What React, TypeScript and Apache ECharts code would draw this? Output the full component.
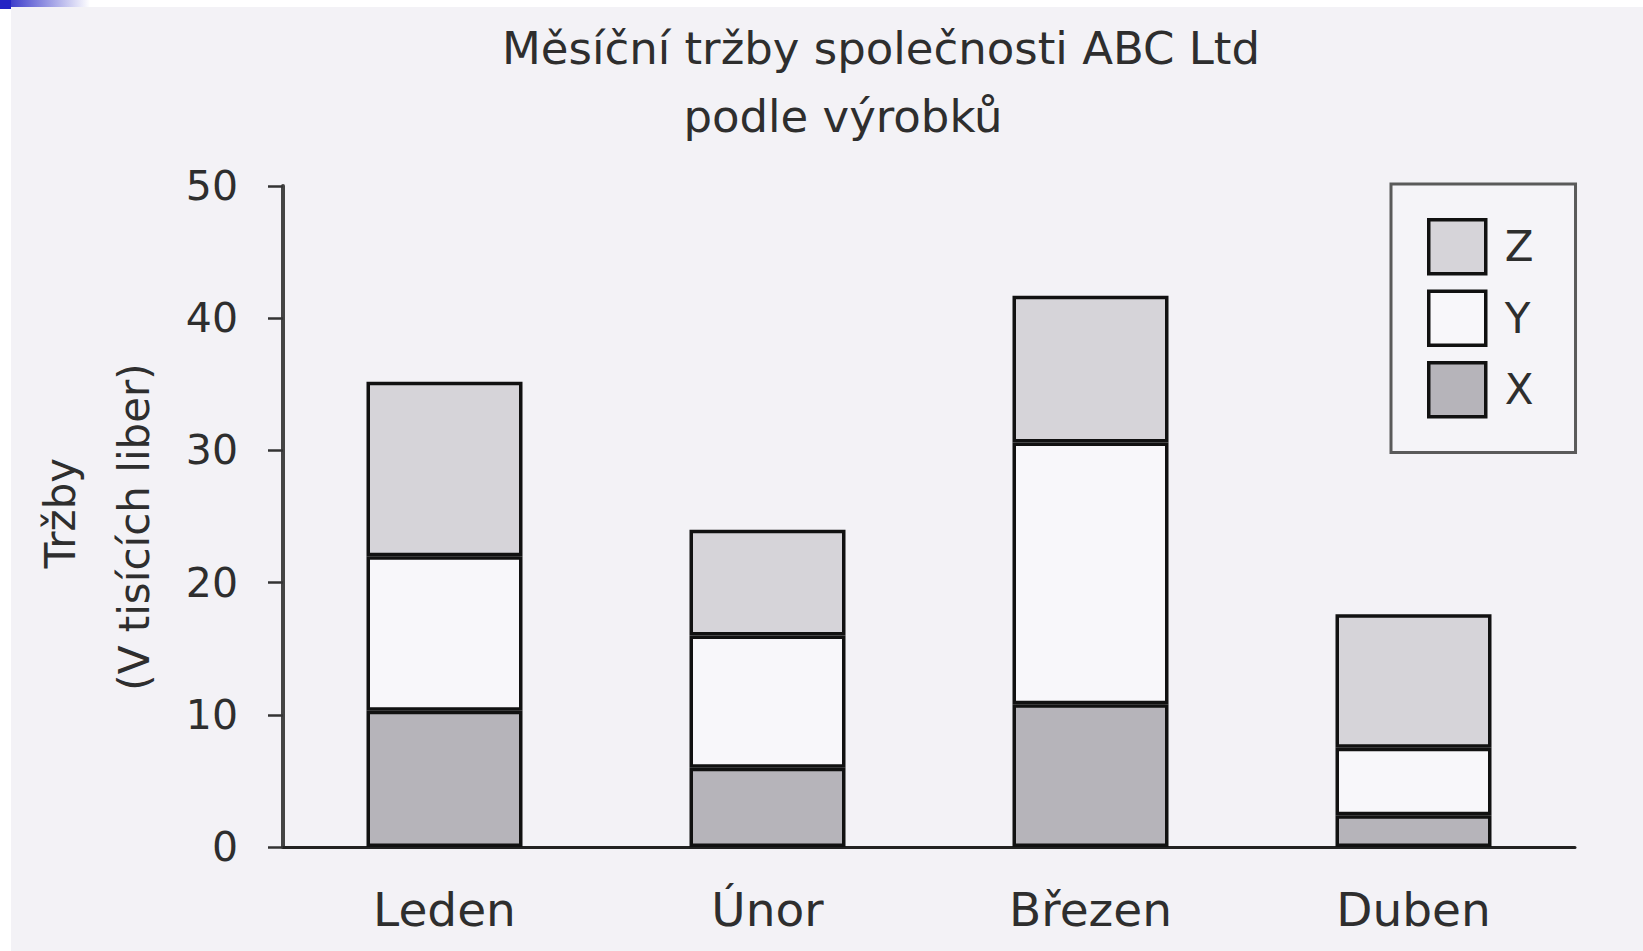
import React, { useEffect, useRef } from "react";
import * as echarts from "echarts";

const titleLine1 = "Měsíční tržby společnosti ABC Ltd";
const titleLine2 = "podle výrobků";
const yNameLine1 = "Tržby";
const yNameLine2 = "(V tisících liber)";
const categories = ["Leden", "Únor", "Březen", "Duben"];
const seriesNames = ["X", "Y", "Z"];
const xValues = [10.3, 6, 10.8, 2.4];
const yValues = [11.7, 10, 19.8, 5.1];
const zValues = [13.2, 8, 11.1, 10.1];
const legendOrder = ["Z", "Y", "X"];
const yTicks = { min: 0, max: 50, interval: 10 };

const FONT = "DejaVu Sans";
const fills: Record<string, string> = { X: "#b6b4ba", Y: "#f8f7fa", Z: "#d6d4d9" };

export default function App() {
  const ref = useRef<HTMLDivElement>(null);
  useEffect(() => {
    if (!ref.current) return;
    const chart = echarts.init(ref.current, null, { renderer: "svg" });
    const values: Record<string, number[]> = { X: xValues, Y: yValues, Z: zValues };
    chart.setOption({
      animation: false,
      backgroundColor: "#ffffff",
      title: [
        {
          text: titleLine1,
          left: 876,
          top: 21,
          textAlign: "center",
          textStyle: { fontFamily: FONT, fontSize: 45, fontWeight: "normal", color: "#2e2e2e" },
        },
        {
          text: titleLine2,
          left: 838,
          top: 89,
          textAlign: "center",
          textStyle: { fontFamily: FONT, fontSize: 45, fontWeight: "normal", color: "#2e2e2e" },
        },
      ],
      graphic: [
        { type: "rect", z: -100, shape: { x: 11, y: 7, width: 1632, height: 944 }, style: { fill: "#f3f2f6" } },
        {
          type: "rect",
          z: -90,
          shape: { x: 0, y: 0, width: 90, height: 7 },
          style: {
            fill: new echarts.graphic.LinearGradient(0, 0, 1, 0, [
              { offset: 0, color: "#2424c4" },
              { offset: 1, color: "#ffffff" },
            ]),
          },
        },
        { type: "rect", z: -90, shape: { x: 0, y: 0, width: 11, height: 9 }, style: { fill: "#2424c4" } },
        {
          type: "text",
          x: 60,
          y: 513,
          rotation: Math.PI / 2,
          style: { text: yNameLine1, fontFamily: FONT, fontSize: 42, fill: "#2e2e2e", align: "center", verticalAlign: "middle" },
        },
        {
          type: "text",
          x: 134,
          y: 527,
          rotation: Math.PI / 2,
          style: { text: yNameLine2, fontFamily: FONT, fontSize: 42, fill: "#2e2e2e", align: "center", verticalAlign: "middle" },
        },
      ],
      legend: {
        orient: "vertical",
        left: 1391,
        top: 184,
        padding: [34, 42, 34, 36],
        itemWidth: 57,
        itemHeight: 54,
        itemGap: 14,
        icon: "rect",
        borderColor: "#5a5a5a",
        borderWidth: 3,
        backgroundColor: "#f5f4f8",
        data: legendOrder,
        itemStyle: { borderColor: "#111", borderWidth: 3.5 },
        textStyle: { fontFamily: FONT, fontSize: 42, color: "#2e2e2e", padding: [0, 0, 0, 14] },
      },
      grid: { left: 283, right: 68, top: 186, bottom: 104, containLabel: false },
      xAxis: {
        type: "category",
        data: categories,
        axisLine: { lineStyle: { color: "#222", width: 3 } },
        axisTick: { show: false },
        axisLabel: { fontFamily: FONT, fontSize: 47, color: "#2e2e2e", margin: 39 },
      },
      yAxis: {
        type: "value",
        min: yTicks.min,
        max: yTicks.max,
        interval: yTicks.interval,
        splitLine: { show: false },
        axisLine: { show: true, lineStyle: { color: "#444", width: 4 } },
        axisTick: { show: true, length: 15, lineStyle: { color: "#333", width: 2.5 } },
        axisLabel: { fontFamily: FONT, fontSize: 41, color: "#2e2e2e", margin: 45 },
      },
      series: seriesNames.map((n) => ({
        name: n,
        type: "bar",
        stack: "total",
        barWidth: 156,
        data: values[n],
        itemStyle: { color: fills[n], borderColor: "#111", borderWidth: 3.5 },
      })),
    });
    return () => chart.dispose();
  }, []);
  return <div ref={ref} style={{ position: "fixed", left: 0, top: 0, width: 1643, height: 951 }} />;
}
